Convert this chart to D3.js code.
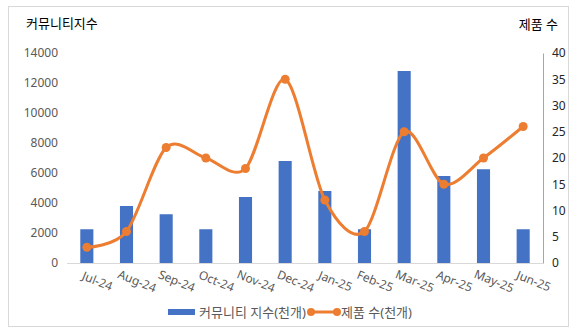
<!DOCTYPE html>
<html><head><meta charset="utf-8">
<script src="https://cdn.jsdelivr.net/npm/d3@7"></script>
<style>
body{margin:0;background:#fff;}
text{font-family:"Noto Sans","Noto Sans CJK KR",sans-serif;}
</style></head>
<body><svg id="c" width="578" height="335"></svg>
<script>
const categories = ["Jul-24","Aug-24","Sep-24","Oct-24","Nov-24","Dec-24","Jan-25","Feb-25","Mar-25","Apr-25","May-25","Jun-25"];
const communityIndex = [2250,3800,3250,2250,4400,6800,4800,2250,12800,5800,6250,2250];
const productCount = [3,6,22,20,18,35,12,6,25,15,20,26];
const leftTicks = [0,2000,4000,6000,8000,10000,12000,14000];
const rightTicks = [0,5,10,15,20,25,30,35,40];
const leftTitle = "커뮤니티지수";
const rightTitle = "제품 수";
const seriesNames = ["커뮤니티 지수(천개)","제품 수(천개)"];

const svg = d3.select("#c");
const m={l:67,r:543,t:53,b:263};
const blue="#4472C4", orange="#ED7D31";

svg.append("rect").attr("x",8.5).attr("y",6.5).attr("width",560).attr("height",320)
  .attr("fill","#fff").attr("stroke","#D9D9D9");

const x=d3.scaleBand().domain(categories).range([m.l,m.r]).paddingInner(0.67).paddingOuter(0.335);
const yL=d3.scaleLinear().domain([0,14000]).range([m.b,m.t]);
const yR=d3.scaleLinear().domain([0,40]).range([m.b,m.t]);

const gl=svg.append("g").attr("transform",`translate(${m.l},0)`)
  .call(d3.axisLeft(yL).tickValues(leftTicks).tickSize(0).tickPadding(9).tickFormat(d3.format("d")));
gl.select(".domain").remove();
gl.selectAll("text").attr("fill","#595959").style("font-size","12px").attr("font-family","Liberation Sans, sans-serif");

const gr=svg.append("g").attr("transform",`translate(${m.r},0)`)
  .call(d3.axisRight(yR).tickValues(rightTicks).tickSize(0).tickPadding(9));
gr.select(".domain").attr("stroke","#A6A6A6");
gr.selectAll("text").attr("fill","#262626").style("font-size","12px").attr("font-family","Liberation Sans, sans-serif");

svg.append("g").selectAll("rect").data(categories).join("rect")
  .attr("x",d=>x(d)).attr("width",x.bandwidth())
  .attr("y",(d,i)=>yL(communityIndex[i])).attr("height",(d,i)=>yL(0)-yL(communityIndex[i]))
  .attr("fill",blue);

svg.append("line").attr("x1",m.l).attr("x2",m.r).attr("y1",m.b+0.5).attr("y2",m.b+0.5).attr("stroke","#D9D9D9");

const cx=d=>x(d)+x.bandwidth()/2;
svg.append("g").selectAll("text").data(categories).join("text")
  .attr("transform",d=>`translate(${cx(d)+9},${m.b+22}) rotate(22)`)
  .attr("text-anchor","middle").attr("fill","#595959")
  .style("font-size","12px").attr("font-family","Liberation Sans, sans-serif")
  .text(d=>d);

const pts=categories.map((d,i)=>[cx(d),yR(productCount[i])]);
svg.append("path").attr("d",d3.line().curve(d3.curveCardinal.tension(0.1))(pts))
  .attr("fill","none").attr("stroke",orange).attr("stroke-width",3).attr("stroke-linecap","round");
svg.append("g").selectAll("circle").data(pts).join("circle")
  .attr("cx",d=>d[0]).attr("cy",d=>d[1]).attr("r",4.5).attr("fill",orange);

svg.append("text").attr("x",26).attr("y",28).attr("fill","#000").style("font-size","13px").text(leftTitle);
svg.append("text").attr("x",558).attr("y",29).attr("text-anchor","end").attr("fill","#000").style("font-size","13px").text(rightTitle);

svg.append("rect").attr("x",168).attr("y",309).attr("width",27).attr("height",6).attr("fill",blue);
svg.append("text").attr("x",199).attr("y",317).attr("fill","#595959").style("font-size","13px").text(seriesNames[0]);
svg.append("line").attr("x1",311).attr("x2",337).attr("y1",312).attr("y2",312).attr("stroke",orange).attr("stroke-width",3);
svg.append("circle").attr("cx",311).attr("cy",312).attr("r",4).attr("fill",orange);
svg.append("circle").attr("cx",337).attr("cy",312).attr("r",4).attr("fill",orange);
svg.append("text").attr("x",341).attr("y",317).attr("fill","#595959").style("font-size","13px").text(seriesNames[1]);
</script></body></html>
